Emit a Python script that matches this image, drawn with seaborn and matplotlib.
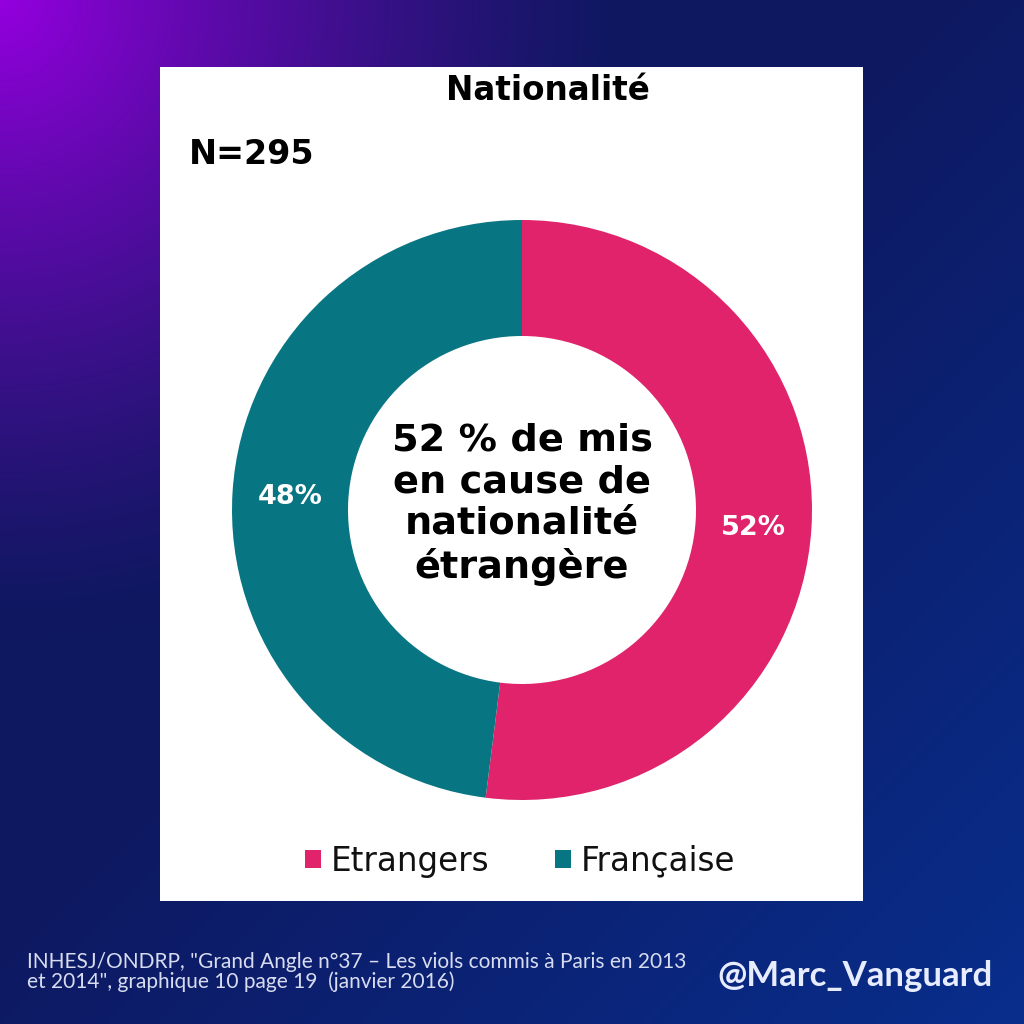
import numpy as np
import matplotlib
matplotlib.use("Agg")
import matplotlib.pyplot as plt
import seaborn as sns
from matplotlib.patches import Rectangle

sns.set_theme(style="white")
plt.rcParams['font.family'] = ['DejaVu Sans']

# ---- data ----
categories = ["Etrangers", "Française"]
values = [52, 48]
pct_labels = ["52%", "48%"]
colors = ["#E0236A", "#087582"]
title = "Nationalité"
n_label = "N=295"
center_lines = "52 % de mis\nen cause de\nnationalité\nétrangère"
source = ("INHESJ/ONDRP, \"Grand Angle n°37 – Les viols commis à Paris en 2013\n"
          "et 2014\", graphique 10 page 19  (janvier 2016)")
handle = "@Marc_Vanguard"

W = H = 1024
fig = plt.figure(figsize=(10.24, 10.24), dpi=100)

# ---- gradient background ----
bg = fig.add_axes([0, 0, 1, 1])
yy, xx = np.mgrid[0:H, 0:W] / 1024.0
d = np.sqrt(xx**2 + yy**2)
purple = np.array([148, 0, 222]) / 255
navy = np.array([14, 24, 96]) / 255
blue = np.array([8, 46, 140]) / 255
t1 = np.clip(d / 0.62, 0, 1)[..., None]
img = purple * (1 - t1) ** 1.3 + navy * (1 - (1 - t1) ** 1.3)
t2 = np.clip((xx + yy - 0.9) / 1.1, 0, 1)[..., None]
img = img * (1 - t2) + blue * t2
bg.imshow(img, extent=[0, W, H, 0], aspect="auto")
bg.set_xlim(0, W)
bg.set_ylim(H, 0)
bg.axis("off")

# white panel
bg.add_patch(Rectangle((160, 67), 703, 834, facecolor="white", edgecolor="none"))

# ---- donut ----
cx, cy, R = 522, 510, 290
ring = 0.40
ax = fig.add_axes([(cx - R) / W, (H - cy - R) / H, 2 * R / W, 2 * R / H])
wedges, _ = ax.pie(values, colors=colors, startangle=90, counterclock=False,
                   radius=1.0, wedgeprops=dict(width=ring, edgecolor="none"))
ax.set_xlim(-1, 1)
ax.set_ylim(-1, 1)
ax.set_aspect("equal")
ax.axis("off")

# percentage labels inside ring
rmid = 1 - ring / 2
angles = []
start = 90
for v in values:
    mid = start - v / 100 * 360 / 2
    angles.append(mid)
    start -= v / 100 * 360
for lab, a, dy in zip(pct_labels, angles, [-0.012, -0.005]):
    x = rmid * np.cos(np.radians(a))
    y = rmid * np.sin(np.radians(a)) + dy
    ax.text(x, y, lab, color="white", fontsize=19.5, fontweight="bold",
            ha="center", va="center")

ax.text(0, 0.02, center_lines, ha="center", va="center", fontsize=27.5,
        fontweight="bold", color="black", linespacing=1.2)

# ---- texts ----
fig.text(548 / W, 1 - 91 / H, title, ha="center", va="center",
         fontsize=23.5, fontweight="bold", color="black")
fig.text(189 / W, 1 - 155 / H, n_label, ha="left", va="center",
         fontsize=24, fontweight="bold", color="black")

# legend
leg_handles = [Rectangle((0, 0), 1, 1, facecolor=c, edgecolor="none") for c in colors]
fig.legend(leg_handles, categories, loc="center", bbox_to_anchor=(520 / W, 1 - 861 / H),
           ncol=2, frameon=False, fontsize=23.5, handlelength=0.5, handleheight=0.5,
           handletextpad=0.3, columnspacing=2.0, labelcolor="#111111")

# footer
fig.text(27 / W, 1 - 972 / H, source, ha="left", va="center", fontsize=15,
         color="#d8dcf0", family=["Lato", "DejaVu Sans"], linespacing=0.95)
fig.text(993 / W, 1 - 976 / H, handle, ha="right", va="center", fontsize=25,
         fontweight="bold", color="#e8ecff", family=["Lato", "DejaVu Sans"])

fig.savefig("out.png", dpi=100)
